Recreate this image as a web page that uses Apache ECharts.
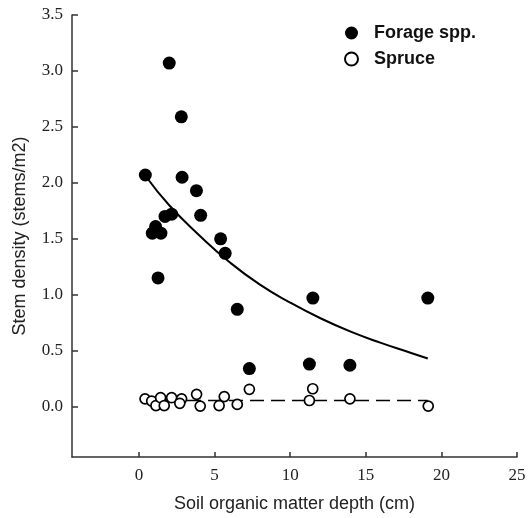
<!DOCTYPE html>
<html lang="en">
<head>
    <meta charset="UTF-8">
    <title>Stem density</title>
    <script src="https://cdn.jsdelivr.net/npm/echarts@6/dist/echarts.min.js"></script>
    <style>
        html, body { margin: 0; padding: 0; background: #fff; }
    </style>
</head>
<body>

<div id="chart_wrap" style="width: 532px; height: 518px;"></div>

<script>
    // data: [soil organic matter depth (cm), stem density]
    var forage_pts = [
        [0.42, 2.07], [2.0, 3.07], [2.8, 2.59], [2.85, 2.05], [3.8, 1.93],
        [4.08, 1.71], [5.4, 1.50], [5.7, 1.37], [0.88, 1.55], [1.1, 1.61],
        [1.45, 1.55], [1.72, 1.70], [2.16, 1.72], [1.26, 1.15], [6.5, 0.87],
        [7.3, 0.34], [11.5, 0.97], [19.1, 0.97], [11.27, 0.38], [13.95, 0.37]
    ];
    var spruce_pts = [
        [0.4, 0.07], [0.84, 0.05], [1.12, 0.01], [1.43, 0.08], [1.67, 0.01],
        [2.16, 0.08], [2.82, 0.07], [2.7, 0.03], [3.81, 0.11], [4.05, 0.005],
        [5.3, 0.01], [5.64, 0.09], [6.5, 0.02], [7.3, 0.155], [11.49, 0.16],
        [11.27, 0.055], [13.95, 0.07], [19.13, 0.005]
    ];
    // fitted curves
    var forage_fit = [
        [0.5, 2.05], [2, 1.80], [4, 1.53], [6, 1.29], [8, 1.09], [10, 0.93],
        [12, 0.79], [14, 0.67], [16, 0.57], [18, 0.48], [19.1, 0.43]
    ];
    var spruce_fit = [[0.4, 0.055], [19.1, 0.055]];

    var x_ticks = [0, 5, 10, 15, 20, 25];
    var y_ticks = [0, 0.5, 1, 1.5, 2, 2.5, 3, 3.5];

    var axis_color = "#333";
    var serif = "'Liberation Serif', 'DejaVu Serif', serif";
    var sans = "'Liberation Sans', Arial, sans-serif";

    var myChart = echarts.init(document.getElementById("chart_wrap"));

    var option = {
        backgroundColor: "#fff",
        animation: false,
        grid: {
            left: 72,
            right: 15,
            top: 15,
            bottom: 59
        },
        legend: {
            orient: "vertical",
            left: 339,
            top: 19,
            itemWidth: 13,
            itemHeight: 13,
            itemGap: 8,
            data: ["Forage spp.", "Spruce"],
            textStyle: {
                fontFamily: sans,
                fontWeight: "bold",
                fontSize: 18,
                color: "#111",
                padding: [0, 0, 0, 11]
            }
        },
        xAxis: {
            type: "value",
            min: -4.43,
            max: 25,
            name: "Soil organic matter depth (cm)",
            nameLocation: "middle",
            nameGap: 38,
            nameTextStyle: { fontFamily: sans, fontSize: 18, color: "#222" },
            splitLine: { show: false },
            axisLine: { show: true, onZero: false, lineStyle: { color: axis_color, width: 1.5 } },
            axisTick: {
                show: true, inside: true, length: 5,
                customValues: x_ticks,
                lineStyle: { color: axis_color, width: 1.5 }
            },
            axisLabel: {
                customValues: x_ticks,
                fontFamily: serif, fontSize: 17, color: "#222", margin: 10
            }
        },
        yAxis: {
            type: "value",
            min: -0.45,
            max: 3.5,
            name: "Stem density (stems/m2)",
            nameLocation: "middle",
            nameGap: 43,
            nameTextStyle: { fontFamily: sans, fontSize: 18, color: "#222" },
            splitLine: { show: false },
            axisLine: { show: true, onZero: false, lineStyle: { color: axis_color, width: 1.5 } },
            axisTick: {
                show: true, inside: true, length: 6,
                customValues: y_ticks,
                lineStyle: { color: axis_color, width: 1.5 }
            },
            axisLabel: {
                customValues: y_ticks,
                fontFamily: serif, fontSize: 17, color: "#222", margin: 9,
                formatter: function (v) { return v.toFixed(1); }
            }
        },
        series: [
            {
                name: "Forage spp.",
                type: "scatter",
                data: forage_pts,
                symbol: "circle",
                symbolSize: 13,
                itemStyle: { color: "#000", opacity: 1 },
                z: 3
            },
            {
                name: "Spruce",
                type: "scatter",
                data: spruce_pts,
                symbol: "circle",
                symbolSize: 10,
                itemStyle: { color: "#fff", borderColor: "#000", borderWidth: 1.7, opacity: 1 },
                z: 3
            },
            {
                type: "line",
                data: forage_fit,
                smooth: true,
                showSymbol: false,
                symbol: "none",
                lineStyle: { color: "#000", width: 2 },
                z: 2
            },
            {
                type: "line",
                data: spruce_fit,
                showSymbol: false,
                symbol: "none",
                lineStyle: { color: "#000", width: 1.7, type: [14, 7] },
                z: 2
            }
        ]
    };

    myChart.setOption(option);
</script>
</body>
</html>
